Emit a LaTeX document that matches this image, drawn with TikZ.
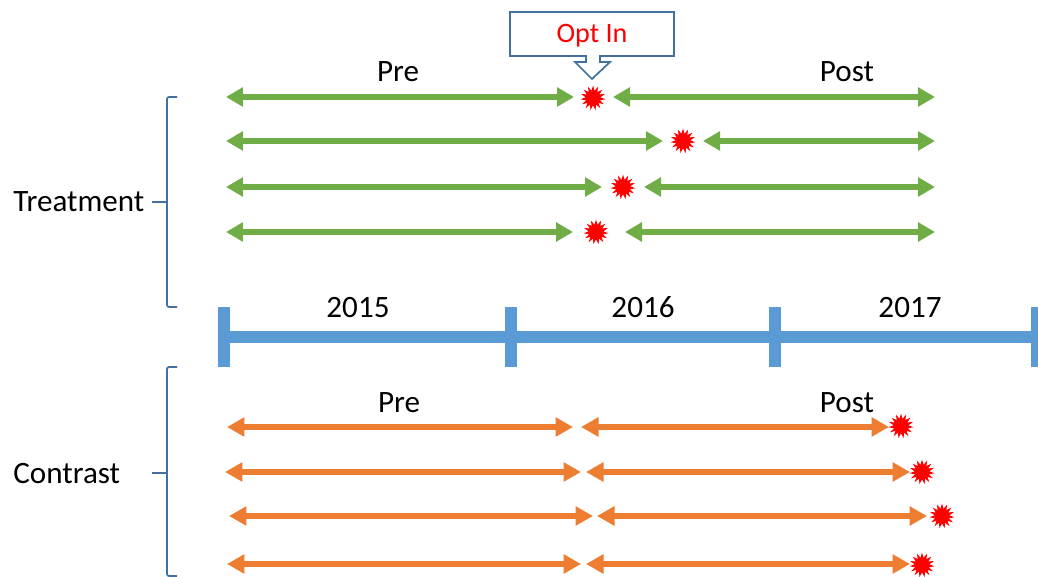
\documentclass[tikz,border=0pt]{standalone}
\usepackage{fontspec}
\setmainfont{Carlito}
\usetikzlibrary{arrows.meta,shapes.geometric}
\definecolor{tgreen}{HTML}{70AD47}
\definecolor{corange}{HTML}{ED7D31}
\definecolor{yblue}{HTML}{5B9BD5}
\definecolor{bracec}{HTML}{41719C}
\tikzset{
    garrow/.style={draw=tgreen, line width=0.13cm, {Triangle[length=0.34cm,width=0.37cm]}-{Triangle[length=0.34cm,width=0.37cm]}},
    oarrow/.style={draw=corange, line width=0.12cm, {Triangle[length=0.35cm,width=0.37cm]}-{Triangle[length=0.35cm,width=0.37cm]}},
    yline/.style={draw=yblue, line width=0.24cm},
    brace/.style={draw=bracec, line width=0.035cm, rounded corners=0.04cm},
    burst/.style={star, star points=15, star point ratio=1.7, fill=red, draw=none, minimum size=0.5cm, inner sep=0pt},
    lbl/.style={font=\fontsize{17.7}{21}\selectfont, inner sep=0pt}
}

\begin{document}
\begin{tikzpicture}[x=0.02cm,y=-0.02cm]
                \useasboundingbox (0,0) rectangle (1038,577);
                % timeline
                \coordinate (ya) at (224,337);
                \coordinate (yb) at (1045,337);
                \draw[yline] (ya) -- (yb);
                \draw[yline] (224,307) -- (224,367);
                \draw[yline] (511,307) -- (511,367);
                \draw[yline] (775,307) -- (775,367);
                \draw[yline] (1037,307) -- (1037,367);
                \node[lbl, anchor=base] (y2015) at (358,318) {2015};
                \node[lbl, anchor=base] (y2016) at (643,318) {2016};
                \node[lbl, anchor=base] (y2017) at (910,318) {2017};
                % braces
                \draw[brace] (177,97) -- (167,97) -- (167,307) -- (177,307);
                \draw[brace] (152,202) -- (167,202);
                \draw[brace] (177,367) -- (167,367) -- (167,576) -- (177,576);
                \draw[brace] (152,473) -- (167,473);
                \node[lbl, anchor=base west] (treat) at (13,212) {Treatment};
                \node[lbl, anchor=base west] (contr) at (13,483) {Contrast};
                % opt in callout
                \draw[draw=bracec, line width=0.035cm, fill=white] (510,12) -- (674,12) -- (674,56) -- (600,56)
                    -- (600,62) -- (610,62) -- (592,79) -- (575,62) -- (586,62) -- (586,56) -- (510,56) -- cycle;
                \node[lbl, font=\fontsize{16}{19}\selectfont, text=red, anchor=base] (optin) at (592,43) {Opt In};
                % treatment rows
                \node[lbl, anchor=base] (gpre) at (398,82) {Pre};
                \node[lbl, anchor=base] (gpost) at (847,82) {Post};
                \coordinate (g1a) at (226,97);  \coordinate (g1b) at (574,97);
                \coordinate (g1c) at (613,97);  \coordinate (g1d) at (935,97);
                \coordinate (g2a) at (226,141); \coordinate (g2b) at (663,141);
                \coordinate (g2c) at (703,141); \coordinate (g2d) at (935,141);
                \coordinate (g3a) at (226,187); \coordinate (g3b) at (602,187);
                \coordinate (g3c) at (644,187); \coordinate (g3d) at (935,187);
                \coordinate (g4a) at (226,232); \coordinate (g4b) at (573,232);
                \coordinate (g4c) at (625,232); \coordinate (g4d) at (935,232);
                \draw[garrow] (g1a) -- (g1b); \draw[garrow] (g1c) -- (g1d);
                \draw[garrow] (g2a) -- (g2b); \draw[garrow] (g2c) -- (g2d);
                \draw[garrow] (g3a) -- (g3b); \draw[garrow] (g3c) -- (g3d);
                \draw[garrow] (g4a) -- (g4b); \draw[garrow] (g4c) -- (g4d);
                \node[burst] (s1) at (593,98) {};
                \node[burst] (s2) at (683,141) {};
                \node[burst] (s3) at (623,187) {};
                \node[burst] (s4) at (596,232) {};
                % contrast rows
                \node[lbl, anchor=base] (opre) at (399,413) {Pre};
                \node[lbl, anchor=base] (opost) at (847,413) {Post};
                \coordinate (o1a) at (227,427); \coordinate (o1b) at (573,427);
                \coordinate (o1c) at (581,427); \coordinate (o1d) at (889,427);
                \coordinate (o2a) at (225,472); \coordinate (o2b) at (581,472);
                \coordinate (o2c) at (586,472); \coordinate (o2d) at (910,472);
                \coordinate (o3a) at (229,516); \coordinate (o3b) at (593,516);
                \coordinate (o3c) at (597,516); \coordinate (o3d) at (927,516);
                \coordinate (o4a) at (227,564); \coordinate (o4b) at (581,564);
                \coordinate (o4c) at (586,564); \coordinate (o4d) at (910,564);
                \draw[oarrow] (o1a) -- (o1b); \draw[oarrow] (o1c) -- (o1d);
                \draw[oarrow] (o2a) -- (o2b); \draw[oarrow] (o2c) -- (o2d);
                \draw[oarrow] (o3a) -- (o3b); \draw[oarrow] (o3c) -- (o3d);
                \draw[oarrow] (o4a) -- (o4b); \draw[oarrow] (o4c) -- (o4d);
                \node[burst] (c1) at (901,426) {};
                \node[burst] (c2) at (922,472) {};
                \node[burst] (c3) at (942,516) {};
                \node[burst] (c4) at (922,565) {};
            \end{tikzpicture}
\end{document}
